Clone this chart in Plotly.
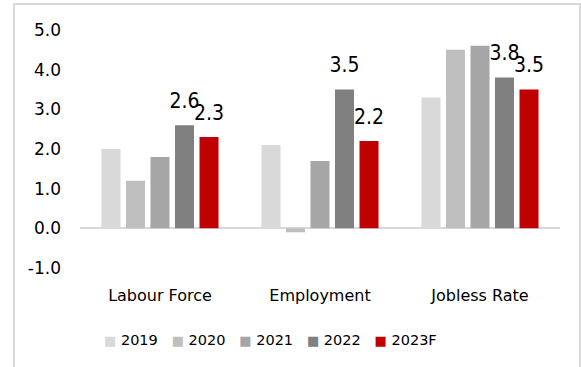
import plotly.graph_objects as go

# Labour market indicators, % YoY
categories = ["Labour Force", "Employment", "Jobless Rate"]
years = ["2019", "2020", "2021", "2022", "2023F"]
values = {
    "2019": [2.0, 2.1, 3.3],
    "2020": [1.2, -0.1, 4.5],
    "2021": [1.8, 1.7, 4.6],
    "2022": [2.6, 3.5, 3.8],
    "2023F": [2.3, 2.2, 3.5],
}
labelled_years = ["2022", "2023F"]
colors = ["#d9d9d9", "#bfbfbf", "#a6a6a6", "#808080", "#c00000"]
y_ticks = [-1, 0, 1, 2, 3, 4, 5]

FONT = "DejaVu Sans"
LABEL_FONT = "Liberation Sans Narrow, DejaVu Sans Condensed, Liberation Sans"

fig = go.Figure()

for year, color in zip(years, colors):
    vals = values[year]
    if year in labelled_years:
        text = [f"{v:.1f}" for v in vals]
        # value in large type, followed by a short blank line that lifts it off the bar
        template = "<span style='font-size:21px'>%{text}</span><br>\u00a0"
    else:
        text = None
        template = None
    fig.add_trace(go.Bar(
        x=categories, y=vals, name=year,
        marker=dict(color=color, line=dict(width=0)),
        text=text, texttemplate=template,
        textposition="outside" if text else "none",
        constraintext="none",
        textfont=dict(family=LABEL_FONT, size=9.5, color="#000000"),
        cliponaxis=False, showlegend=False,
    ))

# legend row: coloured square key followed by the year
legend_text = "\u00a0\u00a0\u00a0".join(
    f"<span style='color:{c};font-size:13px'>\u25a0</span> {y}"
    for y, c in zip(years, colors)
)

fig.update_layout(
    width=581, height=367,
    margin=dict(l=80, r=21, t=30, b=99),
    paper_bgcolor="white", plot_bgcolor="white",
    barmode="group", bargap=0.234, bargroupgap=0.224,
    font=dict(family=FONT, size=16, color="#000000"),
    showlegend=False,
    xaxis=dict(
        showgrid=False, showline=False, ticks="", tickfont=dict(size=16),
        ticklabelstandoff=16,
    ),
    yaxis=dict(
        range=[-1, 5], tickvals=y_ticks,
        ticktext=[f"{v:.1f}" for v in y_ticks],
        showgrid=False, showline=False, ticks="",
        zeroline=True, zerolinecolor="#d9d9d9", zerolinewidth=2,
        tickfont=dict(size=17), ticklabelstandoff=18,
    ),
    shapes=[dict(
        type="rect", xref="paper", yref="paper",
        x0=-0.1375, x1=1.0417, y0=-0.47, y1=1.109,
        line=dict(color="#d9d9d9", width=2), fillcolor="rgba(0,0,0,0)",
        layer="below",
    )],
    annotations=[
        dict(
            text="(% YoY)", xref="paper", yref="paper", x=0.754, y=1.113,
            xanchor="center", yanchor="bottom", showarrow=False,
            font=dict(family=FONT, size=17, color="#000000"),
        ),
        dict(
            text=legend_text, xref="paper", yref="paper", x=0.397, y=-0.3025,
            xanchor="center", yanchor="middle", showarrow=False,
            font=dict(family=FONT, size=14.5, color="#000000"),
        ),
    ],
)

fig.write_html("out.html")
